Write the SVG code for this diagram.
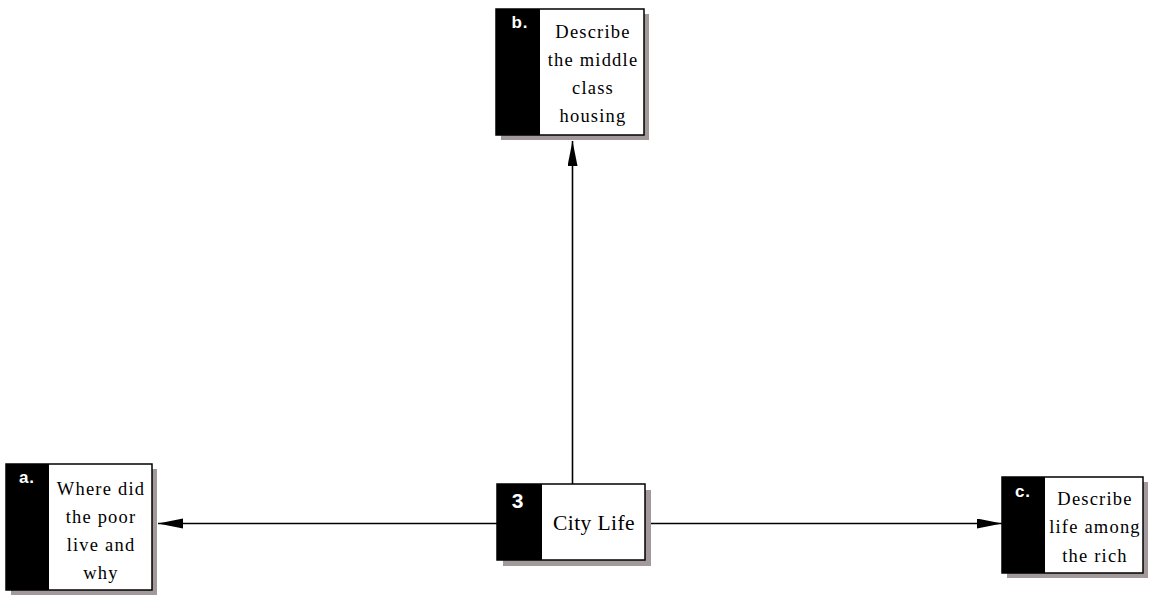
<svg xmlns="http://www.w3.org/2000/svg" width="1153" height="597" viewBox="0 0 1153 597">
<style>
.shadow{fill:#a29a9a}
.box{fill:#fff;stroke:#000;stroke-width:1.5}
.tab{fill:#000}
.lbl{font-family:"Liberation Sans",Arial,sans-serif;font-weight:bold;fill:#fff;text-anchor:middle;letter-spacing:1px}
.txt{font-family:"Liberation Serif","Times New Roman",serif;font-size:18.5px;letter-spacing:1.2px;fill:#000;text-anchor:middle}
.conn{stroke:#000;stroke-width:1.6;fill:none}
</style>
<defs>
<marker id="arr" markerUnits="userSpaceOnUse" markerWidth="26" markerHeight="12" refX="25" refY="5" orient="auto">
<path d="M0,0 L25,5 L0,10 z" fill="#000"/>
</marker>
</defs>
<rect width="1153" height="597" fill="#fff"/>
<g id="connectors">
<line class="conn" x1="572.5" y1="484" x2="572.5" y2="141" marker-end="url(#arr)"/>
<line class="conn" x1="497" y1="523.5" x2="158" y2="523.5" marker-end="url(#arr)"/>
<line class="conn" x1="645" y1="523.5" x2="1002" y2="523.5" marker-end="url(#arr)"/>
</g>
<g id="node-b">
<rect class="shadow" x="501" y="14" width="148" height="126"/>
<rect class="box" x="496" y="9" width="148" height="126"/>
<rect class="tab" x="496" y="9" width="44" height="126"/>
<text class="lbl" x="520" y="28" font-size="17">b.</text>
<text class="txt" x="593" y="38">Describe</text>
<text class="txt" x="593" y="66">the middle</text>
<text class="txt" x="593" y="94">class</text>
<text class="txt" x="593" y="122">housing</text>
</g>
<g id="node-a">
<rect class="shadow" x="11" y="469" width="146" height="126"/>
<rect class="box" x="6" y="464" width="146" height="126"/>
<rect class="tab" x="6" y="464" width="43" height="126"/>
<text class="lbl" x="27" y="483" font-size="17">a.</text>
<text class="txt" x="101" y="495">Where did</text>
<text class="txt" x="101" y="523">the poor</text>
<text class="txt" x="101" y="551">live and</text>
<text class="txt" x="101" y="579">why</text>
</g>
<g id="node-3">
<rect class="shadow" x="503" y="490" width="148" height="76"/>
<rect class="box" x="497" y="484" width="148" height="76"/>
<rect class="tab" x="497" y="484" width="45" height="76"/>
<text class="lbl" x="518" y="508" font-size="21">3</text>
<text class="txt" x="594" y="530" style="font-size:21.5px;letter-spacing:0.4px">City Life</text>
</g>
<g id="node-c">
<rect class="shadow" x="1007" y="482" width="141" height="96"/>
<rect class="box" x="1002" y="477" width="141" height="96"/>
<rect class="tab" x="1002" y="477" width="43" height="96"/>
<text class="lbl" x="1023" y="497" font-size="17">c.</text>
<text class="txt" x="1095" y="505">Describe</text>
<text class="txt" x="1095" y="533">life among</text>
<text class="txt" x="1095" y="562">the rich</text>
</g>
</svg>
